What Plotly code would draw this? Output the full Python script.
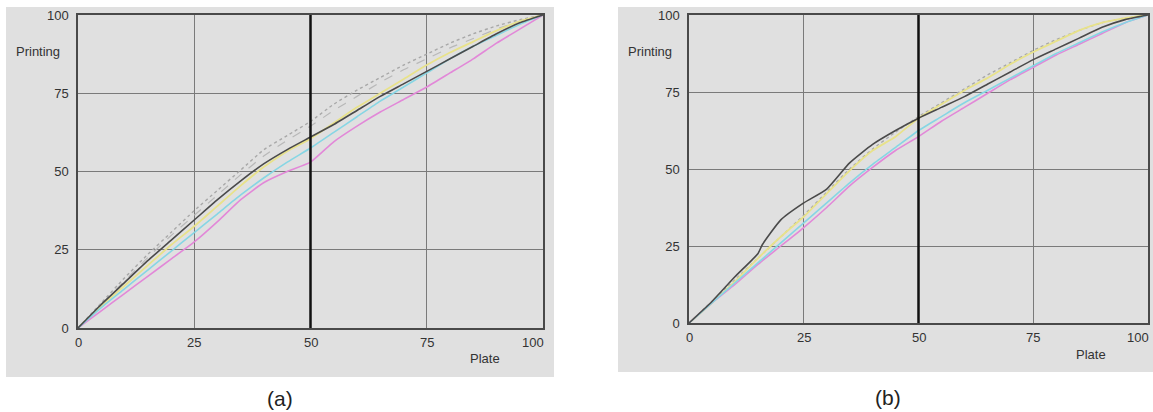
import plotly.graph_objects as go

# ---------------- data ----------------
plate = [0, 5, 10, 15, 20, 25, 30, 35, 40, 45, 50, 55, 60, 65, 70, 75, 80, 85, 90, 95, 100]

# chart (a)
a_black   = [0, 7.5, 14.5, 21.5, 28, 34.5, 41, 47, 52.5, 57, 61, 65, 69.5, 74, 78, 82, 86, 90, 94, 97.5, 100]
a_yellow  = [0, 7, 13.5, 20, 26.5, 32.5, 39, 45.5, 51.5, 56.5, 60.5, 65.5, 70.5, 75, 79.5, 84, 88, 91.5, 95, 98, 100]
a_cyan    = [0, 6.5, 12.5, 18.5, 24.5, 30.5, 36.5, 42.5, 48, 53, 57.5, 62.5, 67.5, 72.5, 77, 81.5, 86, 90, 93.5, 97, 100]
a_magenta = [0, 5.5, 11, 16.5, 22, 27.5, 34, 41, 46.5, 50, 53, 59.5, 64.5, 69, 73, 77, 81.5, 86, 91, 95.5, 100]
a_gray1   = [0, 8, 16, 23.5, 30.5, 37.5, 44, 50.5, 57, 61.5, 66, 71.5, 76, 80, 84, 87.5, 91, 94, 96.5, 98.5, 100]
a_gray2   = [0, 7.5, 15, 22.5, 29.5, 36, 42.5, 49, 55, 60, 64.5, 69.5, 74, 78.5, 82.5, 86, 89.5, 92.5, 95.5, 98, 100]

# chart (b)
b_black_x = [0, 5, 10, 15, 16, 20, 25, 30, 35, 40, 45, 50, 55, 60, 65, 70, 75, 80, 85, 90, 95, 100]
b_black   = [0, 7, 15, 22.5, 25.5, 33.5, 39, 43.5, 52, 58, 62.5, 66.5, 70, 73.5, 77.5, 81.5, 85.5, 89, 92.5, 96, 98.5, 100]
b_yellow  = [0, 6.5, 13.5, 21, 28, 34.5, 42, 49.5, 56, 60.5, 66.5, 71, 75.5, 79.5, 84, 88, 91.5, 95, 97.5, 99, 100]
b_cyan    = [0, 6.5, 13, 19.5, 26, 32.5, 39, 45.5, 51.5, 57, 62.5, 67, 71.5, 75.5, 79.5, 83.5, 87.5, 91, 94.5, 97.5, 100]
b_magenta = [0, 6.5, 12.5, 19, 25, 31, 37.5, 44.5, 50.5, 56, 60.5, 65.5, 70, 74.5, 79, 83, 87, 90.5, 94, 97.5, 100]
b_gray    = [0, 7, 14, 21, 28, 35, 42.5, 50, 56.5, 62, 67, 71.5, 76, 80.5, 84.5, 88.5, 92, 95, 97.5, 99, 100]

tick_vals = [0, 25, 50, 75, 100]
tick_text = ["0", "25", "50", "75", "100"]

# ---------------- styling ----------------
W, H = 1153, 412
FONT = "Liberation Sans, Arial, sans-serif"
PANEL = "#e0e0e0"
C_BLACK, C_YEL, C_CYAN, C_MAG, C_GRAY = "#4a4a4a", "#e8e28a", "#86d6e4", "#e288d8", "#a8a8a8"

def px(x):
    return x / W

def py(y):
    return 1 - y / H

fig = go.Figure()

def add_set(xa, ya, series):
    for xs, ys, col, dash, w in series:
        fig.add_trace(go.Scatter(x=xs, y=ys, mode="lines", xaxis=xa, yaxis=ya,
                                 line=dict(color=col, width=w, dash=dash, shape="spline", smoothing=0.5),
                                 showlegend=False, hoverinfo="skip"))

add_set("x", "y", [
    (plate, a_gray2, "#b8b8b8", "dash", 1.2),
    (plate, a_gray1, C_GRAY, "dot", 1.4),
    (plate, a_yellow, C_YEL, "solid", 1.8),
    (plate, a_magenta, C_MAG, "solid", 1.6),
    (plate, a_cyan, C_CYAN, "solid", 1.6),
    (plate, a_black, C_BLACK, "solid", 1.6),
])
add_set("x2", "y2", [
    (plate, b_gray, C_GRAY, "dot", 1.4),
    (plate, b_yellow, C_YEL, "solid", 1.8),
    (plate, b_magenta, C_MAG, "solid", 1.6),
    (plate, b_cyan, C_CYAN, "solid", 1.6),
    (b_black_x, b_black, C_BLACK, "solid", 1.6),
])

axis_common = dict(range=[0, 100], tickvals=tick_vals,
                   showgrid=True, gridcolor="#7a7a7a", gridwidth=1,
                   showline=True, linecolor="#4a4a4a", linewidth=1.5, mirror=True,
                   zeroline=False, ticks="", fixedrange=True, automargin=False,
                   tickfont=dict(family=FONT, size=13, color="#333333"))

fig.update_layout(
    width=W, height=H,
    margin=dict(l=0, r=0, t=0, b=0),
    paper_bgcolor="white",
    plot_bgcolor=PANEL,
    xaxis=dict(domain=[px(78), px(543)], anchor="y", showticklabels=False, **axis_common),
    yaxis=dict(domain=[py(328), py(15)], anchor="x", ticktext=tick_text, ticklabelstandoff=5, **axis_common),
    xaxis2=dict(domain=[px(689), px(1148)], anchor="y2", showticklabels=False, **axis_common),
    yaxis2=dict(domain=[py(323), py(15)], anchor="x2", ticktext=tick_text, ticklabelstandoff=5, **axis_common),
    showlegend=False,
)

shapes = [
    dict(type="rect", xref="paper", yref="paper", x0=px(6), x1=px(554), y0=py(377), y1=py(7),
         fillcolor=PANEL, line=dict(width=0), layer="below"),
    dict(type="rect", xref="paper", yref="paper", x0=px(618), x1=px(1153), y0=py(372), y1=py(7),
         fillcolor=PANEL, line=dict(width=0), layer="below"),
    dict(type="line", xref="x", yref="y domain", x0=50, x1=50, y0=0, y1=1,
         line=dict(color="#111111", width=2.5), layer="above"),
    dict(type="line", xref="x2", yref="y2 domain", x0=50, x1=50, y0=0, y1=1,
         line=dict(color="#111111", width=2.5), layer="above"),
]
fig.update_layout(shapes=shapes)

ann = []
def label(text, x, y, size=13, color="#333333"):
    ann.append(dict(text=text, x=px(x), y=py(y), xref="paper", yref="paper",
                    showarrow=False, xanchor="center", yanchor="middle",
                    font=dict(family=FONT, size=size, color=color)))

# x tick labels placed through the x-axis scale
def xticks(xref, ypix):
    for v, t in zip(tick_vals, tick_text):
        last = v == tick_vals[-1]
        ann.append(dict(text=t, x=v, xref=xref, y=py(ypix), yref="paper",
                        showarrow=False, xanchor="right" if last else "center",
                        xshift=3 if last else 0, yanchor="middle",
                        font=dict(family=FONT, size=13, color="#333333")))

xticks("x", 342)
xticks("x2", 337)

label("Printing", 38, 52)
label("Printing", 650, 52)
label("Plate", 485, 358)
label("Plate", 1091, 354)
label("(a)", 280, 398, size=21, color="#222222")
label("(b)", 888, 397, size=21, color="#222222")
fig.update_layout(annotations=ann)

fig.write_html("out.html", config={"displayModeBar": False},
               post_script="document.body.style.margin='0';document.body.style.padding='0';")
